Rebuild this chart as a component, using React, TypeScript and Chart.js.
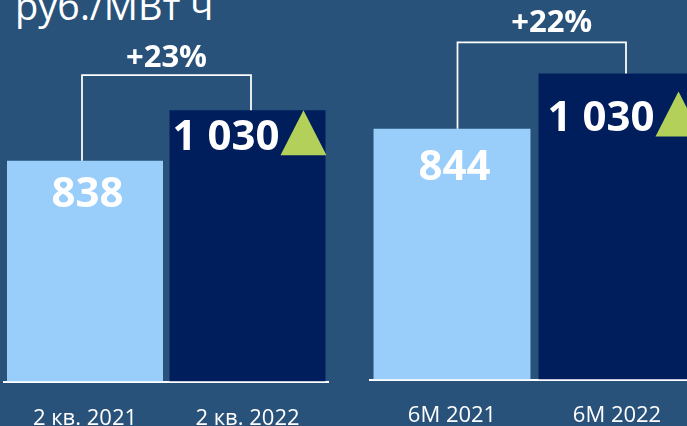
import React, { useEffect, useRef } from 'react';
import { Chart, registerables } from 'chart.js';
Chart.register(...registerables);

const unitTitle = 'руб./МВт ч';
const quarterCategories = ['2 кв. 2021', '2 кв. 2022'];
const quarterValues = [838, 1030];
const quarterGrowth = '+23%';
const halfCategories = ['6М 2021', '6М 2022'];
const halfValues = [844, 1030];
const halfGrowth = '+22%';

const BG = '#29527a';
const LIGHT = '#99cdfa';
const DARK = '#001e5c';
const GREEN = '#b3d15a';
const FONT = '"Open Sans", sans-serif';

const fmt = (v: number) => String(v).replace(/\B(?=(\d{3})+(?!\d))/g, ' ');

type Deco = {
  growth: string;
  lightDx: number; lightBase: number;
  darkDx: number; darkBase: number;
  legL: number; legR: number; bracketUp: number;
  pctDx: number; pctUp: number;
};

function makePlugin(d: Deco) {
  return {
    id: 'deco',
    afterDatasetsDraw(chart: any) {
      const ctx = chart.ctx;
      const bars = chart.getDatasetMeta(0).data;
      const values = chart.data.datasets[0].data as number[];
      const light = bars[0];
      const dark = bars[1];
      ctx.save();
      const xl = light.x + d.legL;
      const xr = dark.x + d.legR;
      const top = dark.y - d.bracketUp;
      ctx.strokeStyle = '#ffffff';
      ctx.lineWidth = 1.75;
      ctx.beginPath();
      ctx.moveTo(xl, light.y);
      ctx.lineTo(xl, top);
      ctx.lineTo(xr, top);
      ctx.lineTo(xr, dark.y);
      ctx.stroke();

      ctx.fillStyle = '#ffffff';
      ctx.textBaseline = 'alphabetic';
      ctx.textAlign = 'center';
      ctx.font = `bold 31px ${FONT}`;
      ctx.fillText(d.growth, (xl + xr) / 2 + d.pctDx, top - d.pctUp);

      ctx.font = `bold 42px ${FONT}`;
      ctx.fillText(fmt(values[0]), light.x + d.lightDx, light.y + d.lightBase);

      ctx.font = `bold 42px ${FONT}`;
      ctx.textAlign = 'left';
      const left = dark.x - dark.width / 2 + d.darkDx;
      const by = dark.y + d.darkBase;
      const txt = fmt(values[1]);
      ctx.fillText(txt, left, by);
      const w = ctx.measureText(txt).width;
      const tx = left + w + 1;
      const ty = by + 5;
      ctx.fillStyle = GREEN;
      ctx.beginPath();
      ctx.moveTo(tx, ty);
      ctx.lineTo(tx + 46, ty);
      ctx.lineTo(tx + 23, ty - 45);
      ctx.closePath();
      ctx.fill();
      ctx.restore();
    },
  };
}

function makeConfig(labels: string[], values: number[], max: number, pad: any, barPct: number, tickPad: number, axisH: number, deco: Deco): any {
  return {
    type: 'bar',
    data: {
      labels,
      datasets: [{
        data: values,
        backgroundColor: [LIGHT, DARK],
        borderWidth: 0,
        categoryPercentage: 1,
        barPercentage: barPct,
      }],
    },
    options: {
      animation: false,
      responsive: false,
      maintainAspectRatio: false,
      layout: { padding: pad },
      plugins: { legend: { display: false }, tooltip: { enabled: false }, title: { display: false } },
      scales: {
        x: {
          grid: { display: false, drawTicks: false },
          border: { display: true, color: '#ffffff', width: 2 },
          ticks: { color: '#ffffff', font: { family: FONT, size: 22 }, padding: tickPad, maxRotation: 0, autoSkip: false },
          afterFit: (scale: any) => { scale.height = axisH; },
        },
        y: { display: false, min: 0, max },
      },
    },
    plugins: [makePlugin(deco)],
  };
}

export default function App() {
  const c1 = useRef<HTMLCanvasElement>(null);
  const c2 = useRef<HTMLCanvasElement>(null);
  useEffect(() => {
    const ch1 = new Chart(c1.current!, makeConfig(quarterCategories, quarterValues, 1400,
      { left: 3.75, right: 16.25, top: 12.7, bottom: 0 }, 0.96, 24.5, 48.5,
      { growth: quarterGrowth, lightDx: 2.5, lightBase: 46, darkDx: 3, darkBase: 40, legL: -3, legR: 3.5, bracketUp: 35, pctDx: 0, pctUp: 8 }));
    const ch2 = new Chart(c2.current!, makeConfig(halfCategories, halfValues, 1250,
      { left: 24.5, right: 15.5, top: 10.1, bottom: 0 }, 0.951, 22.5, 48.4,
      { growth: halfGrowth, lightDx: 2.5, lightBase: 51, darkDx: 9, darkBase: 58, legL: 5.5, legR: 9, bracketUp: 31, pctDx: 10, pctUp: 10 }));
    return () => { ch1.destroy(); ch2.destroy(); };
  }, []);
  return (
    <div style={{ position: 'fixed', left: 0, top: 0, width: 687, height: 426, overflow: 'hidden', background: BG }}>
      <div style={{ position: 'absolute', left: 15, top: -14, fontFamily: FONT, fontSize: 38, lineHeight: '38px', color: '#ffffff', whiteSpace: 'nowrap' }}>{unitTitle}</div>
      <canvas ref={c1} width={345} height={430} style={{ position: 'absolute', left: 0, top: 0, width: 345, height: 430 }} />
      <canvas ref={c2} width={370} height={430} style={{ position: 'absolute', left: 345, top: -1.6, width: 370, height: 430 }} />
    </div>
  );
}
